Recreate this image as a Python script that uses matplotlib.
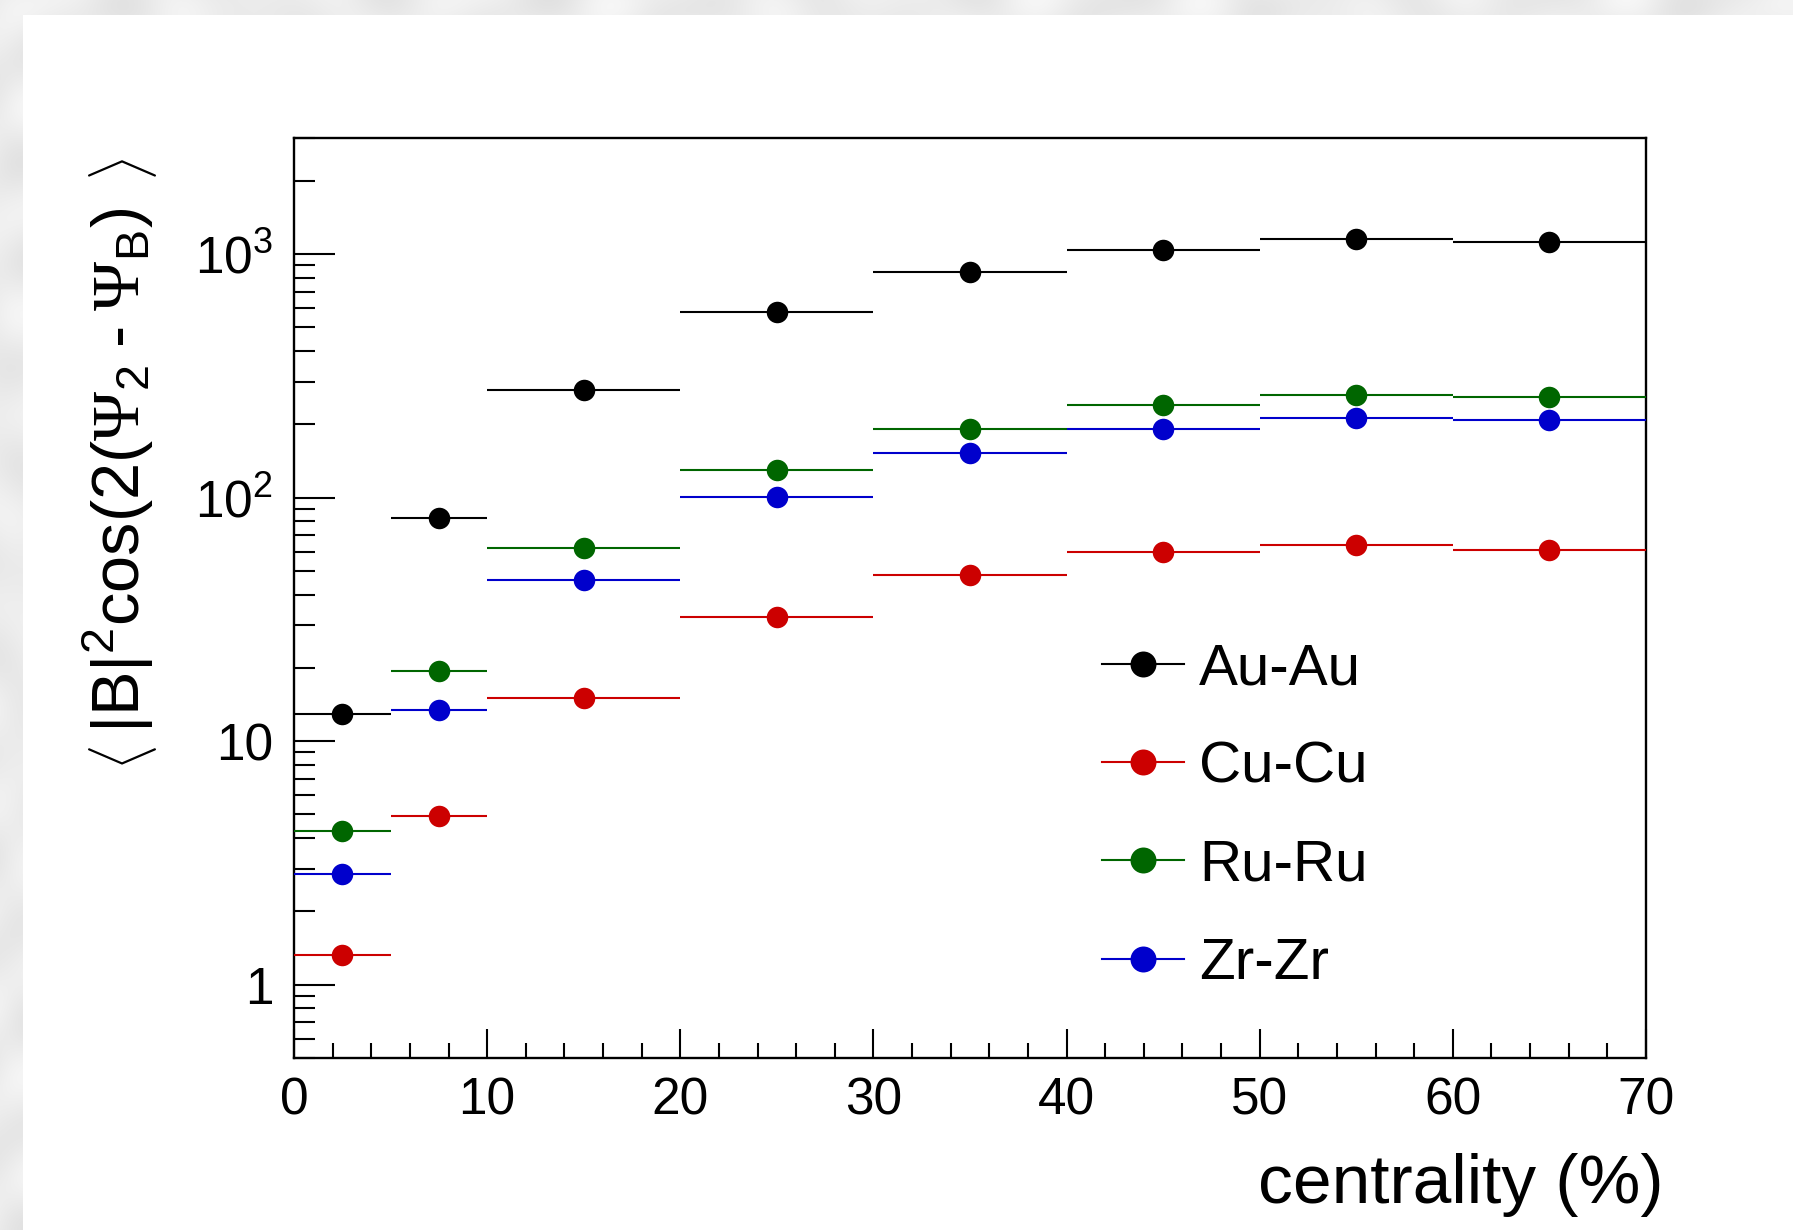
import numpy as np
import matplotlib
matplotlib.use("Agg")
import matplotlib.pyplot as plt
from matplotlib.lines import Line2D
from matplotlib.patches import Rectangle
from matplotlib.ticker import FixedLocator, FixedFormatter, LogLocator, NullFormatter, MultipleLocator

plt.rcParams["font.family"] = ["Liberation Sans", "DejaVu Sans"]
plt.rcParams["mathtext.fontset"] = "custom"
plt.rcParams["mathtext.rm"] = "Liberation Sans"
plt.rcParams["mathtext.it"] = "Liberation Sans:italic"
plt.rcParams["mathtext.bf"] = "Liberation Sans:bold"
plt.rcParams["mathtext.sf"] = "Liberation Serif"

# centrality bins (%)
bin_lo = [0, 5, 10, 20, 30, 40, 50, 60]
bin_hi = [5, 10, 20, 30, 40, 50, 60, 70]

# <|B|^2 cos(2(Psi_2 - Psi_B))> per collision system
au_au = [12.9, 82.5, 277, 579, 848, 1045, 1151, 1122]
cu_cu = [1.33, 4.93, 15.1, 32.3, 48.2, 60.0, 64.1, 61.0]
ru_ru = [4.28, 19.4, 62.0, 130, 191, 240, 264, 260]
zr_zr = [2.84, 13.4, 46.0, 100.7, 153, 191, 212, 209]

systems = ["Au-Au", "Cu-Cu", "Ru-Ru", "Zr-Zr"]
colors = ["#000000", "#cc0000", "#006600", "#0000cc"]
series = [au_au, cu_cu, ru_ru, zr_zr]

y_ticks = [1, 10, 100, 1000]
y_tick_labels = ["1", "10", r"$10^{2}$", r"$10^{3}$"]
x_ticks = [0, 10, 20, 30, 40, 50, 60, 70]

W, H, DPI = 1793, 1230, 100
fig = plt.figure(figsize=(W / DPI, H / DPI), dpi=DPI)
fig.patch.set_facecolor("#ebebeb")

# soft mottled canvas behind the white pad
yy, xx = np.mgrid[0:H, 0:W]
mottle = (np.sin(xx / 23.0) * np.cos(yy / 17.0)
          + 0.6 * np.sin((xx + 2 * yy) / 31.0)
          + 0.4 * np.cos((3 * xx - yy) / 41.0))
shade = 0.925 + 0.022 * mottle
fig.figimage(np.dstack([shade] * 3), xo=0, yo=0, zorder=-20)

panel = Rectangle((23 / W, 0), 1 - 23 / W, (H - 15) / H,
                  transform=fig.transFigure, facecolor="white",
                  edgecolor="none", zorder=-10)
fig.add_artist(panel)

ax = fig.add_axes([294 / W, (H - 1058) / H, (1646 - 294) / W, (1058 - 138) / H])
ax.set_zorder(1)
ax.patch.set_alpha(0)
ax.set_yscale("log")

centers = [(a + b) / 2 for a, b in zip(bin_lo, bin_hi)]
half = [(b - a) / 2 for a, b in zip(bin_lo, bin_hi)]
for vals, c in zip(series, colors):
    ax.errorbar(centers, vals, xerr=half, fmt="o", color=c, ms=15.5,
                mew=0, elinewidth=1.5, capsize=0, zorder=3, clip_on=False)

ax.set_xlim(0, 70)
ax.set_ylim(0.5, 3000)

for s in ax.spines.values():
    s.set_linewidth(1.7)

ax.xaxis.set_major_locator(FixedLocator(x_ticks))
ax.xaxis.set_minor_locator(MultipleLocator(2))
ax.yaxis.set_major_locator(FixedLocator(y_ticks))
ax.yaxis.set_major_formatter(FixedFormatter(y_tick_labels))
ax.yaxis.set_minor_locator(LogLocator(base=10, subs=np.arange(2, 10)))
ax.yaxis.set_minor_formatter(NullFormatter())

ax.tick_params(axis="both", which="both", direction="in", width=1.5,
               top=False, right=False, labelsize=37)
ax.tick_params(axis="x", which="major", length=21, pad=13)
ax.tick_params(axis="x", which="minor", length=10.5)
ax.tick_params(axis="y", which="major", length=29.5, pad=15)
ax.tick_params(axis="y", which="minor", length=15)

# axis titles
fig.text(1664 / W, (H - 1203) / H, "centrality (%)", ha="right",
         va="baseline", fontsize=50)

# y title: body plus angle brackets at each end
fig.text(118 / W, (H - 207) / H,
         r"$|\mathrm{B}|^{2}\cos(2(\mathsf{\Psi}_{2}\;\text{-}\;\mathsf{\Psi}_{\mathrm{B}})$",
         rotation=90, ha="center", va="top", fontsize=48)
fig.text(123 / W, (H - 158) / H, r"$\rangle$", rotation=90,
         ha="center", va="top", fontsize=40)
fig.text(123 / W, (H - 770) / H, r"$\langle$", rotation=90,
         ha="center", va="bottom", fontsize=40)

handles = [Line2D([], [], color=c, marker="o", ms=18.7, mew=0, lw=1.5)
           for c in colors]
ax.legend(handles, systems, loc="upper left", bbox_to_anchor=(0.598, 0.452),
          frameon=False, fontsize=42, borderpad=0, borderaxespad=0,
          handlelength=1.39, handletextpad=0.27, labelspacing=0.76)

fig.savefig("out.png", dpi=DPI)
